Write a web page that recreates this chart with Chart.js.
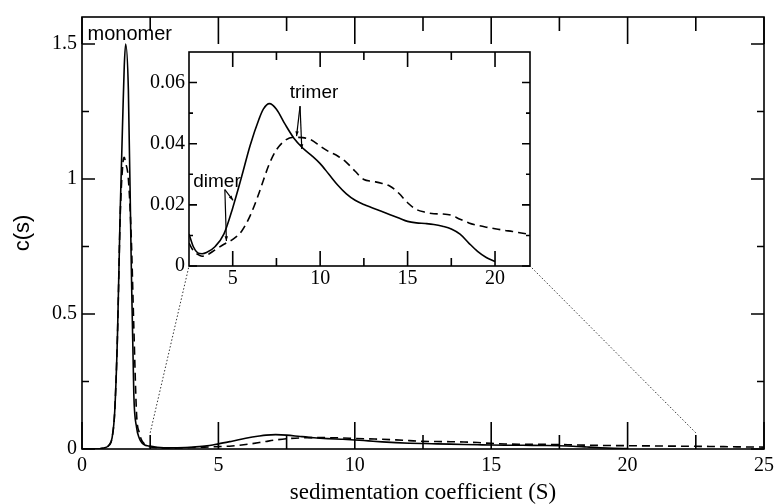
<!DOCTYPE html>
<html lang="en">
<head>
  <meta charset="UTF-8">
  <title>c(s) distribution</title>
  <script src="https://cdn.jsdelivr.net/npm/chart.js@4.4.1/dist/chart.umd.min.js"></script>
  <style>
    body { margin: 0; background: #fff; }
    #wrap { position: relative; width: 780px; height: 504px; }
    #mainChart { position: absolute; left: 0; top: 0; }
    #insetChart { position: absolute; left: 130px; top: 36px; }
  </style>
</head>
<body>
  <div id="wrap">
    <canvas id="mainChart" width="780" height="504"></canvas>
    <canvas id="insetChart" width="410" height="260"></canvas>
  </div>

  <script>
    // monomer peak region (S, c(s))
    const peakX      = [0, 0.5, 0.7, 0.9, 1.0, 1.1, 1.2, 1.3, 1.4, 1.5, 1.55, 1.6, 1.7, 1.8, 1.9, 2.0, 2.1, 2.2, 2.3, 2.4];
    const peakSolid  = [0, 0, 0.002, 0.007, 0.015, 0.04, 0.14, 0.42, 0.88, 1.25, 1.42, 1.5, 1.33, 0.72, 0.2, 0.08, 0.04, 0.022, 0.015, 0.012];
    const peakDashed = [0, 0, 0.002, 0.007, 0.015, 0.04, 0.14, 0.42, 0.86, 1.06, 1.08, 1.06, 1.0, 0.8, 0.45, 0.13, 0.06, 0.03, 0.018, 0.011];

    // broad region, shown again in the inset
    const broadX = [2.5, 2.75, 3, 3.25, 3.5, 4, 4.5, 5, 5.5, 6, 6.5, 6.75, 7.1, 7.5, 8, 8.5, 9, 9.5, 10, 10.5,
                    11, 11.5, 12, 12.5, 13, 13.5, 14, 14.5, 15, 15.5, 16, 16.5, 17, 17.5, 18, 18.5, 19, 19.5, 20,
                    20.5, 21, 21.5, 22];
    const broadSolid = [0.0105, 0.0063, 0.0043, 0.0040, 0.0044, 0.0064, 0.0105, 0.019, 0.029, 0.0395, 0.048, 0.0513, 0.0531,
                        0.0513, 0.0463, 0.0418, 0.0386, 0.0362, 0.0335, 0.0300, 0.0265, 0.0236, 0.0215, 0.0201, 0.0190,
                        0.0179, 0.0168, 0.0157, 0.0146, 0.0141, 0.0139, 0.0136, 0.0130, 0.0121, 0.0104, 0.0075, 0.0048,
                        0.0028, 0.0015, null, null, null, null];
    const broadDashed = [0.0075, 0.0050, 0.0038, 0.0032, 0.0035, 0.0053, 0.0071, 0.0087, 0.0113, 0.0165, 0.0238, 0.028, 0.0335,
                         0.038, 0.0411, 0.0421, 0.0420, 0.0412, 0.0392, 0.0374, 0.036, 0.0339, 0.031, 0.0283, 0.0277,
                         0.0271, 0.0261, 0.0238, 0.0207, 0.0185, 0.0176, 0.0171, 0.017, 0.0166, 0.0153, 0.0141, 0.0133,
                         0.0127, 0.0122, 0.0117, 0.0113, 0.0108, 0.0103];

    // dashed tail beyond the inset range
    const tailX      = [23, 24, 25];
    const tailDashed = [0.0095, 0.008, 0.007];

    // ticks
    const mainXMajor  = [0, 5, 10, 15, 20, 25];
    const mainXMinor  = [2.5, 7.5, 12.5, 17.5, 22.5];
    const mainYMajor  = [0, 0.5, 1, 1.5];
    const mainYMinor  = [0.25, 0.75, 1.25];
    const insetXMajor = [5, 10, 15, 20];
    const insetXMinor = [7.5, 12.5, 17.5];
    const insetYMajor = [0, 0.02, 0.04, 0.06];
    const insetYMinor = [0.01, 0.03, 0.05];

    const serif = 'Liberation Serif';
    const sans = 'Liberation Sans';

    function pts(xs, ys) {
      return xs.map((x, i) => ({ x: x, y: ys[i] }));
    }

    // frame + inward ticks on all four sides
    const frameTicks = {
      id: 'frameTicks',
      afterDatasetsDraw(chart, args, o) {
        const { ctx, chartArea: a, scales: { x, y } } = chart;
        ctx.save();
        ctx.strokeStyle = '#000';
        ctx.lineWidth = 1.6;
        ctx.strokeRect(a.left, a.top, a.right - a.left, a.bottom - a.top);
        ctx.beginPath();
        const xt = (vals, len) => vals.forEach(v => {
          const p = x.getPixelForValue(v);
          ctx.moveTo(p, a.bottom); ctx.lineTo(p, a.bottom - len);
          ctx.moveTo(p, a.top); ctx.lineTo(p, a.top + len);
        });
        const yt = (vals, len) => vals.forEach(v => {
          const p = y.getPixelForValue(v);
          ctx.moveTo(a.left, p); ctx.lineTo(a.left + len, p);
          ctx.moveTo(a.right, p); ctx.lineTo(a.right - len, p);
        });
        xt(o.xMajor, o.xLen[0]);
        xt(o.xMinor, o.xLen[1]);
        yt(o.yMajor, o.yLen[0]);
        yt(o.yMinor, o.yLen[1]);
        ctx.stroke();
        ctx.restore();
      }
    };

    // text labels with arrows, placed in data coordinates
    const notes = {
      id: 'notes',
      afterDatasetsDraw(chart, args, o) {
        const { ctx, scales: { x, y } } = chart;
        ctx.save();
        ctx.fillStyle = '#000';
        ctx.strokeStyle = '#000';
        ctx.lineWidth = 1.2;
        ctx.font = o.font;
        ctx.textAlign = 'center';
        ctx.textBaseline = 'middle';
        (o.labels || []).forEach(l => {
          ctx.fillText(l.text, x.getPixelForValue(l.x), y.getPixelForValue(l.y));
        });
        (o.arrows || []).forEach(ar => {
          const x0 = x.getPixelForValue(ar.from[0]), y0 = y.getPixelForValue(ar.from[1]);
          const x1 = x.getPixelForValue(ar.to[0]), y1 = y.getPixelForValue(ar.to[1]);
          ctx.beginPath();
          ctx.moveTo(x0, y0);
          ctx.lineTo(x1, y1);
          ctx.stroke();
          const ang = Math.atan2(y1 - y0, x1 - x0);
          ctx.beginPath();
          ctx.moveTo(x1, y1);
          ctx.lineTo(x1 - 5 * Math.cos(ang - 0.35), y1 - 5 * Math.sin(ang - 0.35));
          ctx.lineTo(x1 - 5 * Math.cos(ang + 0.35), y1 - 5 * Math.sin(ang + 0.35));
          ctx.closePath();
          ctx.fill();
        });
        ctx.restore();
      }
    };

    const lineStyle = {
      borderColor: '#000',
      borderWidth: 1.6,
      pointRadius: 0,
      cubicInterpolationMode: 'monotone',
      spanGaps: false
    };

    const noGrid = { display: false, drawTicks: false };

    // ---- inset ----
    const inset = new Chart(document.getElementById('insetChart'), {
      type: 'line',
      data: {
        datasets: [
          Object.assign({ data: pts(broadX, broadSolid) }, lineStyle),
          Object.assign({ data: pts(broadX, broadDashed), borderDash: [8, 5] }, lineStyle)
        ]
      },
      plugins: [frameTicks, notes],
      options: {
        responsive: false,
        animation: false,
        devicePixelRatio: 1,
        layout: { padding: { left: 0, top: 11, right: 10, bottom: 0 } },
        scales: {
          x: {
            type: 'linear', min: 2.5, max: 22,
            afterFit: s => { s.height = 30; },
            afterBuildTicks: s => { s.ticks = insetXMajor.map(v => ({ value: v })); },
            grid: noGrid, border: { display: false },
            ticks: { color: '#000', font: { family: serif, size: 20 }, padding: 1, maxRotation: 0,
                     callback: v => String(v) }
          },
          y: {
            type: 'linear', min: 0, max: 0.07,
            afterFit: s => { s.width = 59; },
            afterBuildTicks: s => { s.ticks = insetYMajor.map(v => ({ value: v })); },
            grid: noGrid, border: { display: false },
            ticks: { color: '#000', font: { family: serif, size: 20 }, padding: 4,
                     callback: v => String(v) }
          }
        },
        plugins: {
          legend: { display: false },
          tooltip: { enabled: false },
          frameTicks: { xMajor: insetXMajor, xMinor: insetXMinor, yMajor: insetYMajor, yMinor: insetYMinor,
                        xLen: [15, 8], yLen: [8, 4] },
          notes: {
            font: '19px ' + sans,
            labels: [
              { text: 'dimer', x: 4.1, y: 0.0275 },
              { text: 'trimer', x: 9.65, y: 0.0568 }
            ],
            arrows: [
              { from: [4.55, 0.025], to: [5.02, 0.0215] },
              { from: [4.55, 0.025], to: [4.64, 0.0082] },
              { from: [8.85, 0.0523], to: [8.65, 0.0425] },
              { from: [8.85, 0.0523], to: [8.95, 0.0383] }
            ]
          }
        }
      }
    });

    // dotted lines from the zoomed region to the inset corners
    const connector = {
      id: 'connector',
      afterDatasetsDraw(chart) {
        const { ctx, scales: { x, y } } = chart;
        const c = inset.canvas, a = inset.chartArea;
        const ox = c.offsetLeft, oy = c.offsetTop;
        ctx.save();
        ctx.strokeStyle = '#333';
        ctx.lineWidth = 1;
        ctx.setLineDash([1.5, 2]);
        ctx.beginPath();
        ctx.moveTo(x.getPixelForValue(2.5), y.getPixelForValue(0.06));
        ctx.lineTo(ox + a.left, oy + a.bottom);
        ctx.moveTo(x.getPixelForValue(22.5), y.getPixelForValue(0.06));
        ctx.lineTo(ox + a.right, oy + a.bottom);
        ctx.stroke();
        ctx.restore();
      }
    };

    // ---- main ----
    new Chart(document.getElementById('mainChart'), {
      type: 'line',
      data: {
        datasets: [
          Object.assign({ data: pts(peakX.concat(broadX), peakSolid.concat(broadSolid)) }, lineStyle),
          Object.assign({ data: pts(peakX.concat(broadX, tailX), peakDashed.concat(broadDashed, tailDashed)),
                          borderDash: [8, 5] }, lineStyle)
        ]
      },
      plugins: [frameTicks, notes, connector],
      options: {
        responsive: false,
        animation: false,
        devicePixelRatio: 1,
        layout: { padding: { left: 0, top: 13, right: 16, bottom: 0 } },
        scales: {
          x: {
            type: 'linear', min: 0, max: 25,
            afterFit: s => { s.height = 55; },
            afterBuildTicks: s => { s.ticks = mainXMajor.map(v => ({ value: v })); },
            grid: noGrid, border: { display: false },
            ticks: { color: '#000', font: { family: serif, size: 20 }, padding: 5, maxRotation: 0,
                     callback: v => String(v) },
            title: { display: true, text: 'sedimentation coefficient (S)', color: '#000',
                     font: { family: serif, size: 23, lineHeight: 1 }, padding: { top: 0, bottom: 0 } }
          },
          y: {
            type: 'linear', min: 0, max: 1.6,
            afterFit: s => { s.width = 82; },
            afterBuildTicks: s => { s.ticks = mainYMajor.map(v => ({ value: v })); },
            grid: noGrid, border: { display: false },
            ticks: { color: '#000', font: { family: serif, size: 20 }, padding: 5,
                     callback: v => String(v) },
            title: { display: true, text: 'c(s)', color: '#000',
                     font: { family: sans, size: 22, lineHeight: 1 }, padding: { top: 12, bottom: 0 } }
          }
        },
        plugins: {
          legend: { display: false },
          tooltip: { enabled: false },
          frameTicks: { xMajor: mainXMajor, xMinor: mainXMinor, yMajor: mainYMajor, yMinor: mainYMinor,
                        xLen: [27, 14], yLen: [13, 7] },
          notes: {
            font: '20px ' + sans,
            labels: [{ text: 'monomer', x: 1.75, y: 1.535 }]
          }
        }
      }
    });
  </script>
</body>
</html>
